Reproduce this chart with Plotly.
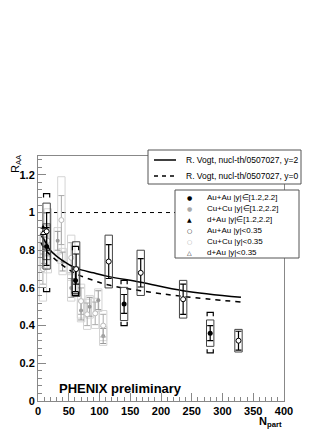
import plotly.graph_objects as go

# ---------------- data ----------------
vogt_npart = [5, 10, 20, 40, 62, 90, 115, 167, 236, 330]
vogt_y2 = [0.88, 0.855, 0.80, 0.745, 0.705, 0.68, 0.66, 0.63, 0.585, 0.55]
vogt_y0 = [0.84, 0.81, 0.775, 0.72, 0.675, 0.64, 0.615, 0.585, 0.555, 0.525]

unity_npart = [0, 400]
unity_raa = [1.0, 1.0]

aa_mid_npart = [14, 62, 115, 167, 236, 326]
aa_mid_raa = [0.90, 0.70, 0.74, 0.68, 0.54, 0.32]
aa_mid_stat = [0.10, 0.08, 0.09, 0.075, 0.08, 0.05]
aa_mid_sys = [0.15, 0.145, 0.14, 0.12, 0.10, 0.06]

aa_fwd_npart = [14, 61, 140, 280]
aa_fwd_raa = [0.82, 0.64, 0.515, 0.36]
aa_fwd_stat = [0.10, 0.06, 0.05, 0.04]
aa_fwd_sys = [0.12, 0.07, 0.088, 0.07]
aa_fwd_glob_hi = [1.10, 0.82, 0.64, 0.47]
aa_fwd_glob_lo = [0.58, 0.56, 0.40, 0.255]

cu_mid_npart = [8, 16, 38, 54, 70, 80, 93, 106]
cu_mid_raa = [0.70, 0.85, 0.96, 0.76, 0.53, 0.46, 0.465, 0.40]
cu_mid_stat = [0.08, 0.08, 0.13, 0.08, 0.07, 0.06, 0.06, 0.06]
cu_mid_sys = [0.17, 0.17, 0.23, 0.12, 0.09, 0.08, 0.08, 0.08]

cu_fwd_npart = [10, 32, 40, 54, 70, 84, 98, 106]
cu_fwd_raa = [0.80, 0.85, 0.74, 0.60, 0.48, 0.50, 0.535, 0.345]
cu_fwd_stat = [0.07, 0.05, 0.05, 0.05, 0.05, 0.05, 0.05, 0.04]
cu_fwd_sys = [0.10, 0.07, 0.07, 0.07, 0.06, 0.06, 0.06, 0.05]

dau_npart = [8.4]
dau_fwd_raa = [0.92]
dau_mid_raa = [0.89]

legend1_labels = ["R. Vogt, nucl-th/0507027, y=2", "R. Vogt, nucl-th/0507027, y=0"]
legend2_labels = ["Au+Au |y|\u2208[1.2,2.2]", "Cu+Cu |y|\u2208[1.2,2.2]", "d+Au |y|\u2208[1.2,2.2]",
                  "Au+Au |y|<0.35", "Cu+Cu |y|<0.35", "d+Au |y|<0.35"]
legend2_symbols = ["\u25cf", "\u25cf", "\u25b2", "\u25cb", "\u25cb", "\u25b3"]
legend2_colors = ["black", "#aaaaaa", "black", "black", "#aaaaaa", "black"]

# ---------------- helpers ----------------
FONT = "Liberation Sans, Arial, sans-serif"
L, R, T, B = 30, 56, 148, 36
W, H = 332, 429
PW, PH = W - L - R, H - T - B


def px(xp):
    return (xp - L) / PW


def py(yp):
    return (H - B - yp) / PH


def boxes(n, r, s, hw):
    xs, ys = [], []
    for ni, ri, si in zip(n, r, s):
        xs += [ni - hw, ni + hw, ni + hw, ni - hw, ni - hw, None]
        ys += [ri - si, ri - si, ri + si, ri + si, ri - si, None]
    return xs, ys


def brackets(n, hi, lo, hw, tick):
    xs, ys = [], []
    for ni, h, l in zip(n, hi, lo):
        xs += [ni - hw, ni - hw, ni + hw, ni + hw, None]
        ys += [h - tick, h, h, h - tick, None]
        xs += [ni - hw, ni - hw, ni + hw, ni + hw, None]
        ys += [l + tick, l, l, l + tick, None]
    return xs, ys


fig = go.Figure()

# unity line
fig.add_trace(go.Scatter(x=unity_npart, y=unity_raa, mode="lines",
                         line=dict(color="black", width=1, dash="4px,4px"), hoverinfo="skip"))

# Cu+Cu boxes
bx, by = boxes(cu_mid_npart, cu_mid_raa, cu_mid_sys, 6)
fig.add_trace(go.Scatter(x=bx, y=by, mode="lines", line=dict(color="#d4d4d4", width=1)))
bx, by = boxes(cu_fwd_npart, cu_fwd_raa, cu_fwd_sys, 6)
fig.add_trace(go.Scatter(x=bx, y=by, mode="lines", line=dict(color="#d4d4d4", width=1)))

# Cu+Cu points
fig.add_trace(go.Scatter(x=cu_fwd_npart, y=cu_fwd_raa, mode="markers",
                         marker=dict(color="#999999", size=4, symbol="circle"),
                         error_y=dict(type="data", array=cu_fwd_stat, color="#999999", thickness=1, width=3)))
fig.add_trace(go.Scatter(x=cu_mid_npart, y=cu_mid_raa, mode="markers",
                         marker=dict(color="white", size=5, symbol="circle",
                                     line=dict(color="#bbbbbb", width=1)),
                         error_y=dict(type="data", array=cu_mid_stat, color="#aaaaaa", thickness=1, width=3)))

# theory curves
fig.add_trace(go.Scatter(x=vogt_npart, y=vogt_y2, mode="lines", line=dict(color="black", width=1.5, shape="spline")))
fig.add_trace(go.Scatter(x=vogt_npart, y=vogt_y0, mode="lines",
                         line=dict(color="black", width=1.5, dash="5px,5px", shape="spline")))

# Au+Au boxes and brackets
bx, by = boxes(aa_mid_npart, aa_mid_raa, aa_mid_sys, 6)
fig.add_trace(go.Scatter(x=bx, y=by, mode="lines", line=dict(color="#444444", width=1)))
bx, by = boxes(aa_fwd_npart, aa_fwd_raa, aa_fwd_sys, 6)
fig.add_trace(go.Scatter(x=bx, y=by, mode="lines", line=dict(color="#444444", width=1)))
bx, by = brackets(aa_fwd_npart, aa_fwd_glob_hi, aa_fwd_glob_lo, 5, 0.02)
fig.add_trace(go.Scatter(x=bx, y=by, mode="lines", line=dict(color="black", width=1.2)))

# Au+Au points
fig.add_trace(go.Scatter(x=aa_fwd_npart, y=aa_fwd_raa, mode="markers",
                         marker=dict(color="black", size=5, symbol="circle"),
                         error_y=dict(type="data", array=aa_fwd_stat, color="black", thickness=1.2, width=3)))
fig.add_trace(go.Scatter(x=aa_mid_npart, y=aa_mid_raa, mode="markers",
                         marker=dict(color="white", size=5, symbol="circle", line=dict(color="black", width=1)),
                         error_y=dict(type="data", array=aa_mid_stat, color="black", thickness=1.2, width=3)))

# d+Au points
fig.add_trace(go.Scatter(x=dau_npart, y=dau_fwd_raa, mode="markers",
                         marker=dict(color="black", size=5, symbol="triangle-up")))
fig.add_trace(go.Scatter(x=dau_npart, y=dau_mid_raa, mode="markers",
                         marker=dict(color="white", size=5, symbol="triangle-up", line=dict(color="black", width=1))))

shapes = []
annotations = []

# legend 1
lx0, lx1, ly0, ly1 = 140, 293, 142, 176
shapes.append(dict(type="rect", xref="paper", yref="paper", x0=px(lx0), x1=px(lx1), y0=py(ly1), y1=py(ly0),
                   line=dict(color="#555555", width=1), fillcolor="white", layer="above"))
leg1_y = [152, 168]
leg1_dash = ["solid", "4px,4px"]
for lab, yy, ds in zip(legend1_labels, leg1_y, leg1_dash):
    shapes.append(dict(type="line", xref="paper", yref="paper", x0=px(146), x1=px(168), y0=py(yy), y1=py(yy),
                       line=dict(color="black", width=1.5, dash=ds), layer="above"))
    annotations.append(dict(text=lab, xref="paper", yref="paper", x=px(176), y=py(yy), xanchor="left",
                            yanchor="middle", showarrow=False, font=dict(family=FONT, size=8.5, color="black")))

# legend 2
mx0, mx1, my0, my1 = 167, 291, 182, 250
shapes.append(dict(type="rect", xref="paper", yref="paper", x0=px(mx0), x1=px(mx1), y0=py(my1), y1=py(my0),
                   line=dict(color="#555555", width=1), fillcolor="white", layer="above"))
leg2_y = [189, 200, 211, 222, 233.5, 244.5]
for lab, sym, col, yy in zip(legend2_labels, legend2_symbols, legend2_colors, leg2_y):
    annotations.append(dict(text=sym, xref="paper", yref="paper", x=px(181), y=py(yy), xanchor="center",
                            yanchor="middle", showarrow=False, font=dict(family="DejaVu Sans", size=6, color=col)))
    annotations.append(dict(text=lab, xref="paper", yref="paper", x=px(197), y=py(yy), xanchor="left",
                            yanchor="middle", showarrow=False, font=dict(family=FONT, size=8, color="black")))

# axis labels and text
annotations.append(dict(text="R<sub>AA</sub>", xref="paper", yref="paper", x=px(8), y=py(156),
                        xanchor="center", yanchor="middle", textangle=-90, showarrow=False,
                        font=dict(family=FONT, size=11, color="black")))
annotations.append(dict(text="<b>N<sub>part</sub></b>", xref="paper", yref="paper", x=px(262), y=py(414),
                        xanchor="center", yanchor="middle", showarrow=False,
                        font=dict(family=FONT, size=11, color="black")))
annotations.append(dict(text="<b>PHENIX preliminary</b>", xref="paper", yref="paper", x=px(49), y=py(380),
                        xanchor="left", yanchor="middle", showarrow=False,
                        font=dict(family=FONT, size=13, color="black")))

fig.update_layout(
    width=W, height=H,
    margin=dict(l=L, r=R, t=T, b=B),
    paper_bgcolor="white", plot_bgcolor="white",
    showlegend=False,
    shapes=shapes,
    annotations=annotations,
    font=dict(family=FONT, size=11, color="black"),
)
fig.update_xaxes(range=[0, 400], dtick=50, tick0=0, showgrid=False, zeroline=False,
                 showline=True, linecolor="#888888", linewidth=1, mirror=True,
                 ticks="inside", ticklen=8, tickcolor="#888888",
                 minor=dict(ticks="inside", dtick=10, ticklen=4, tickcolor="#888888", showgrid=False),
                 tickfont=dict(family=FONT, size=11, color="black", weight="bold"))
fig.update_yaxes(range=[0, 1.3], dtick=0.2, tick0=0, showgrid=False, zeroline=False,
                 showline=True, linecolor="#888888", linewidth=1, mirror=True,
                 ticks="inside", ticklen=8, tickcolor="#888888",
                 minor=dict(ticks="inside", dtick=0.04, ticklen=4, tickcolor="#888888", showgrid=False),
                 tickfont=dict(family=FONT, size=11, color="black", weight="bold"),
                 tickformat="~g")

fig.write_html("out.html")
